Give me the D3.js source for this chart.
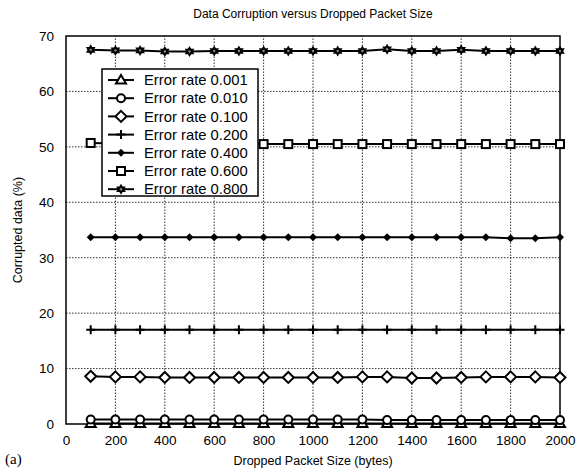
<!DOCTYPE html>
<html>
<head>
<meta charset="utf-8">
<script src="https://cdn.jsdelivr.net/npm/d3@7"></script>
<style>
  body { margin: 0; background: #fff; }
  svg { display: block; font-family: "Liberation Sans", Arial, sans-serif; }
</style>
</head>
<body>
<svg id="chart" width="577" height="468"></svg>
<script>
// Dropped packet sizes (bytes)
const packetSizes = [100, 200, 300, 400, 500, 600, 700, 800, 900, 1000,
                     1100, 1200, 1300, 1400, 1500, 1600, 1700, 1800, 1900, 2000];

// Corrupted data (%) per error rate
const rate0001 = [0.1, 0.1, 0.1, 0.1, 0.1, 0.1, 0.1, 0.1, 0.1, 0.1,
                  0.1, 0.1, 0.1, 0.1, 0.1, 0.1, 0.1, 0.1, 0.1, 0.1];
const rate0010 = [0.8, 0.8, 0.8, 0.8, 0.8, 0.8, 0.8, 0.8, 0.8, 0.8,
                  0.8, 0.8, 0.7, 0.7, 0.7, 0.7, 0.7, 0.7, 0.7, 0.7];
const rate0100 = [8.6, 8.5, 8.5, 8.4, 8.4, 8.4, 8.4, 8.4, 8.4, 8.4,
                  8.4, 8.5, 8.5, 8.3, 8.3, 8.4, 8.5, 8.5, 8.5, 8.4];
const rate0200 = [17.0, 17.0, 17.0, 17.0, 17.0, 17.0, 17.0, 17.0, 17.0, 17.0,
                  17.0, 17.0, 17.0, 17.0, 17.0, 17.0, 17.0, 17.0, 17.0, 17.0];
const rate0400 = [33.7, 33.7, 33.7, 33.7, 33.7, 33.7, 33.7, 33.7, 33.7, 33.7,
                  33.7, 33.7, 33.7, 33.7, 33.7, 33.7, 33.7, 33.5, 33.5, 33.7];
const rate0600 = [50.7, 50.6, 50.6, 50.6, 50.6, 50.6, 50.6, 50.5, 50.5, 50.5,
                  50.5, 50.5, 50.5, 50.5, 50.5, 50.5, 50.5, 50.5, 50.5, 50.5];
const rate0800 = [67.5, 67.4, 67.4, 67.2, 67.2, 67.3, 67.3, 67.3, 67.3, 67.3,
                  67.3, 67.3, 67.6, 67.3, 67.3, 67.5, 67.3, 67.3, 67.3, 67.3];

const seriesNames = ["Error rate 0.001", "Error rate 0.010", "Error rate 0.100",
                     "Error rate 0.200", "Error rate 0.400", "Error rate 0.600",
                     "Error rate 0.800"];
const seriesValues = [rate0001, rate0010, rate0100, rate0200, rate0400, rate0600, rate0800];
const markerKinds = ["triangle", "circle", "diamond", "plus", "smalldiamond", "square", "star"];

const xTicks = [0, 200, 400, 600, 800, 1000, 1200, 1400, 1600, 1800, 2000];
const yTicks = [0, 10, 20, 30, 40, 50, 60, 70];

const W = 577, H = 468;
const margin = { left: 66, right: 17, top: 36, bottom: 44 };
const svg = d3.select("#chart");

const x = d3.scaleLinear().domain([0, 2000]).range([margin.left, W - margin.right]);
const y = d3.scaleLinear().domain([0, 70]).range([H - margin.bottom, margin.top]);

// Dotted grid
const grid = svg.append("g").attr("stroke", "#000").attr("stroke-width", 1)
  .attr("stroke-dasharray", "1.5,1.5").attr("opacity", 0.8);
xTicks.slice(1, -1).forEach(t => {
  grid.append("line").attr("x1", x(t)).attr("x2", x(t))
    .attr("y1", y(0)).attr("y2", y(70));
});
yTicks.slice(1, -1).forEach(t => {
  grid.append("line").attr("x1", x(0)).attr("x2", x(2000))
    .attr("y1", y(t)).attr("y2", y(t));
});

// Axes
const xAxis = d3.axisBottom(x).tickValues(xTicks).tickFormat(d3.format("d"))
  .tickSize(0).tickPadding(11);
const yAxis = d3.axisLeft(y).tickValues(yTicks).tickFormat(d3.format("d"))
  .tickSize(0).tickPadding(12);
const gx = svg.append("g").attr("transform", `translate(0,${y(0)})`).call(xAxis);
const gy = svg.append("g").attr("transform", `translate(${x(0)},0)`).call(yAxis);
[gx, gy].forEach(g => {
  g.select(".domain").remove();
  g.selectAll("text").attr("font-size", 13.5).attr("fill", "#000")
    .attr("font-family", "Liberation Sans, Arial, sans-serif");
});

// Frame
svg.append("rect").attr("x", x(0)).attr("y", y(70))
  .attr("width", x(2000) - x(0)).attr("height", y(0) - y(70))
  .attr("fill", "none").attr("stroke", "#000").attr("stroke-width", 1.5);

// Marker drawing
function drawMarker(g, kind, cx, cy) {
  const s = g.append("g").attr("transform", `translate(${cx},${cy})`);
  switch (kind) {
    case "triangle":
      s.append("path").attr("d", "M0,-5L5,3.5L-5,3.5Z")
        .attr("fill", "#fff").attr("stroke", "#000").attr("stroke-width", 2);
      break;
    case "circle":
      s.append("circle").attr("r", 4)
        .attr("fill", "#fff").attr("stroke", "#000").attr("stroke-width", 2);
      break;
    case "diamond":
      s.append("path").attr("d", "M0,-5.5L5.5,0L0,5.5L-5.5,0Z")
        .attr("fill", "#fff").attr("stroke", "#000").attr("stroke-width", 2);
      break;
    case "plus":
      s.append("path").attr("d", "M-4.5,0H4.5M0,-4.5V4.5")
        .attr("stroke", "#000").attr("stroke-width", 2);
      break;
    case "smalldiamond":
      s.append("path").attr("d", "M0,-4L4,0L0,4L-4,0Z").attr("fill", "#000");
      break;
    case "square":
      s.append("rect").attr("x", -4).attr("y", -4).attr("width", 8).attr("height", 8)
        .attr("fill", "#fff").attr("stroke", "#000").attr("stroke-width", 2);
      break;
    case "star":
      // six-pointed star made of two overlapping triangles
      s.append("path").attr("d", "M0,-5.5L4.8,2.8L-4.8,2.8Z").attr("fill", "#000");
      s.append("path").attr("d", "M0,5.5L4.8,-2.8L-4.8,-2.8Z").attr("fill", "#000");
      s.append("circle").attr("r", 1.2).attr("fill", "#888");
      break;
  }
}

const line = d3.line().x((d, i) => x(packetSizes[i])).y(d => y(d));

const plot = svg.append("g");
seriesValues.forEach((vals, k) => {
  plot.append("path").datum(vals).attr("d", line)
    .attr("fill", "none").attr("stroke", "#000").attr("stroke-width", 2);
  vals.forEach((v, i) => drawMarker(plot, markerKinds[k], x(packetSizes[i]), y(v)));
});

// Legend
const lg = svg.append("g");
const lx = 102, ly = 69, lw = 156, lh = 127;
lg.append("rect").attr("x", lx).attr("y", ly).attr("width", lw).attr("height", lh)
  .attr("fill", "#fff").attr("stroke", "#000").attr("stroke-width", 1.5);
seriesNames.forEach((name, k) => {
  const yy = ly + 11 + k * 18.2;
  lg.append("line").attr("x1", lx + 6).attr("x2", lx + 32).attr("y1", yy).attr("y2", yy)
    .attr("stroke", "#000").attr("stroke-width", 2);
  drawMarker(lg, markerKinds[k], lx + 19, yy);
  lg.append("text").attr("x", lx + 42).attr("y", yy).attr("dy", "0.35em")
    .attr("font-size", 14.8).text(name);
});

// Titles
svg.append("text").attr("x", (x(0) + x(2000)) / 2).attr("y", 18)
  .attr("text-anchor", "middle").attr("font-size", 12).text("Data Corruption versus Dropped Packet Size");
svg.append("text").attr("x", (x(0) + x(2000)) / 2).attr("y", 465)
  .attr("text-anchor", "middle").attr("font-size", 12.5).text("Dropped Packet Size (bytes)");
svg.append("text").attr("transform", `translate(22,${(y(0) + y(70)) / 2}) rotate(-90)`)
  .attr("text-anchor", "middle").attr("font-size", 12.5).text("Corrupted data (%)");
svg.append("text").attr("x", 5).attr("y", 464)
  .attr("font-family", "Liberation Serif, Times New Roman, serif").attr("font-size", 15).text("(a)");
</script>
</body>
</html>
